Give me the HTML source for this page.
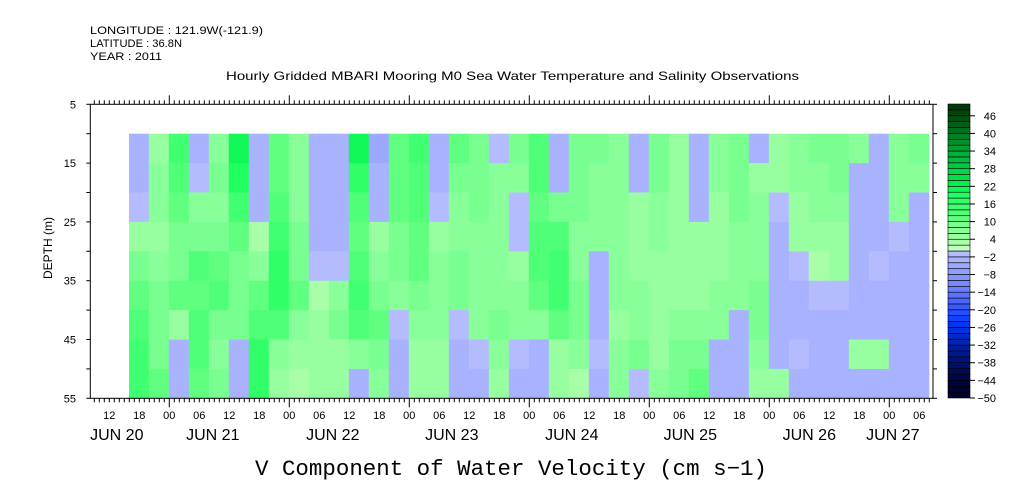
<!DOCTYPE html>
<html><head><meta charset="utf-8"><style>
html,body{margin:0;padding:0;background:#fff;}
svg{display:block;font-family:"Liberation Sans",sans-serif;}
</style></head><body>
<svg id="chart" width="1009" height="504" viewBox="0 0 1009 504" xmlns="http://www.w3.org/2000/svg">
<text x="90" y="34" font-size="11" textLength="173" lengthAdjust="spacingAndGlyphs">LONGITUDE : 121.9W(-121.9)</text>
<text x="90" y="47" font-size="11" textLength="92" lengthAdjust="spacingAndGlyphs">LATITUDE : 36.8N</text>
<text x="90" y="60" font-size="11" textLength="72" lengthAdjust="spacingAndGlyphs">YEAR : 2011</text>
<text x="226" y="80" font-size="12" textLength="573" lengthAdjust="spacingAndGlyphs">Hourly Gridded MBARI Mooring M0 Sea Water Temperature and Salinity Observations</text>
<g id="heat"></g>
<g id="axes"></g>
<g id="cbar"></g>
<text transform="translate(52,248) rotate(-90)" text-anchor="middle" font-size="12">DEPTH (m)</text>
<text x="255" y="475" font-family="Liberation Mono, monospace" font-size="22" textLength="512" lengthAdjust="spacingAndGlyphs">V Component of Water Velocity (cm s−1)</text>
</svg>
<script>
// time in hours relative to JUN 21 00:00; each column spans 4 hours
const colStartHours = [];
for (let i = 0; i < 40; i++) colStartHours.push(-8.1 + 4 * i);
const depthRows = [10,15,20,25,30,35,40,45,50];
const values = [
[-4,-4,-2,4,8,10,12,14,14],[4,6,6,4,6,8,8,8,10],[14,12,10,8,8,10,4,-4,-4],[-4,-2,6,8,12,10,12,12,10],
[6,8,6,8,10,12,8,6,8],[20,18,14,10,8,8,8,-4,-4],[-4,-4,-4,2,6,10,12,16,16],[10,10,12,14,16,16,12,6,4],
[6,6,6,8,8,10,6,4,2],[-4,-4,-4,-4,-2,2,4,4,4],[-4,-4,-4,-4,-2,6,8,4,4],[20,16,12,10,12,14,12,6,-4],
[-6,-4,-4,4,6,8,10,8,6],[10,10,10,8,8,6,-2,-4,-4],[14,12,12,10,10,8,6,4,4],[-4,-4,-2,4,6,6,6,4,4],
[10,8,6,6,8,8,-2,-4,-4],[8,8,8,6,6,6,6,-2,-4],[-2,6,6,6,6,6,8,6,4],[8,6,-2,-2,4,6,6,-2,-4],
[12,12,10,12,12,10,6,-4,-4],[-4,-4,8,12,14,14,10,4,4],[8,8,8,6,6,8,8,6,2],[8,6,6,6,-4,-4,-4,-2,-4],
[6,6,6,6,6,6,4,6,6],[-4,-4,4,4,4,6,6,8,-2],[8,8,6,6,4,4,4,4,6],[4,4,4,4,4,4,6,8,8],
[-4,-4,-4,4,4,4,6,8,10],[6,6,4,4,4,6,6,-4,-4],[8,8,8,6,6,6,-4,-4,-4],[-4,4,6,6,6,8,8,6,4],
[4,4,-2,-4,-4,-4,-4,-4,4],[6,6,4,4,-2,-4,-4,-2,-4],[8,6,6,4,2,-2,-4,-4,-4],[8,8,6,4,4,-2,-4,-4,-4],
[6,-4,-4,-4,-4,-4,-4,4,-4],[-4,-4,-4,-4,-2,-4,-4,4,-4],[6,6,6,-2,-4,-4,-4,-4,-4],[8,6,-4,-4,-4,-4,-4,-4,-4]
];
const cbarLabels = [46,40,34,28,22,16,10,4,-2,-8,-14,-20,-26,-32,-38,-44,-50];
const hourLabels = ["12","18","00","06","12","18","00","06","12","18","00","06","12","18","00","06","12","18","00","06","12","18","00","06","12","18","00","06"];
const dayLabels = ["JUN 20","JUN 21","JUN 22","JUN 23","JUN 24","JUN 25","JUN 26","JUN 27"];
const dayLabelHours = [-10.5,8.7,32.7,56.5,80.5,104.2,128,144.7];
const depthTicks = [5,15,25,35,45,55];

const NS='http://www.w3.org/2000/svg';
const X0=90.3, X1=933, Y0=104.3, Y1=398.3;
const xS = h => 169.3 + h*5;
const yS = d => Y0 + (d-5)*(Y1-Y0)/50;
function mk(tag, attrs, parent){const e=document.createElementNS(NS,tag);for(const k in attrs)e.setAttribute(k,attrs[k]);parent.appendChild(e);return e;}
const POS=['#c0ffc0','#a8ffa8','#98ffa0','#88ff98','#78ff90','#60ff80','#50ff78','#40ff70','#30ff68','#20ff60','#10f858','#00f050','#00e048','#00d844','#00c840','#00bc3c','#00b038','#00a030','#00902c','#008028','#007020','#006018','#005010','#00440c','#003808'];
const NEG=['#b4bcff','#a8b2ff','#9ca8ff','#909eff','#8494ff','#788aff','#6c80ff','#5a72ff','#4a66ff','#385aff','#244eff','#1042ff','#0038f0','#0030e0','#002acc','#0024b8','#001ea4','#001890','#00127c','#000e68','#000a58','#000648','#00043c','#000230','#000028'];
function color(v){
  return v>=0 ? POS[Math.min(Math.floor(v/2),24)] : NEG[Math.min(Math.floor((-v-0.001)/2),24)];
}
const heat=document.getElementById('heat');
for(let i=0;i<values.length;i++){
  const xa=Math.max(xS(colStartHours[i]),129), xb=Math.min(xS(colStartHours[i]+4),X1);
  for(let j=0;j<depthRows.length;j++){
    const r=mk('rect',{x:xa,y:yS(depthRows[j]),width:Math.max(0,Math.min(xb+0.5,X1)-xa),height:Math.min(yS(depthRows[j]+5)+0.5,Y1)-yS(depthRows[j]),fill:color(values[i][j])},heat);
    
    
  }
}
const ax=document.getElementById('axes');
mk('rect',{x:X0,y:Y0,width:X1-X0,height:Y1-Y0,fill:'none',stroke:'#000','stroke-width':1},ax);
const h0=Math.ceil((X0-169.3)/5);
for(let h=h0; xS(h)<=X1; h++){
  const x=xS(h), major=((h%24)+24)%24===0, len=major?9:4;
  mk('line',{x1:x,y1:Y1,x2:x,y2:Y1+len,stroke:'#000'},ax);
  mk('line',{x1:x,y1:Y0,x2:x,y2:Y0-len,stroke:'#000'},ax);
}
hourLabels.forEach((t,k)=>{
  const h=-12+6*k;
  const tx=mk('text',{x:xS(h),y:419,'text-anchor':'middle','font-size':11},ax);
  tx.textContent=t;
  
  
});
dayLabels.forEach((t,k)=>{
  const tx=mk('text',{x:xS(dayLabelHours[k]),y:440,'text-anchor':'middle','font-size':16},ax);
  tx.textContent=t;
  
  
});
for(let d=5; d<=55; d+=5){
  mk('line',{x1:X0-4,y1:yS(d),x2:X0,y2:yS(d),stroke:'#000'},ax);
  mk('line',{x1:X1,y1:yS(d),x2:X1+4,y2:yS(d),stroke:'#000'},ax);
}
depthTicks.forEach(d=>{
  const tx=mk('text',{x:76,y:yS(d)+4,'text-anchor':'end','font-size':11},ax);
  tx.textContent=d;
  
  
});
const cb=document.getElementById('cbar');
const cy = v => 104 + (50-v)*294/100;
for(let v=-50; v<50; v+=2){
  const r=mk('rect',{x:948,y:cy(v+2),width:22,height:cy(v)-cy(v+2),fill:color(v+1),stroke:'#000','stroke-width':0.6},cb);
  
  
}
cbarLabels.forEach(v=>{
  mk('line',{x1:970,y1:cy(v),x2:975,y2:cy(v),stroke:'#000'},cb);
  const tx=mk('text',{x:996,y:cy(v)+4,'text-anchor':'end','font-size':11},cb);
  tx.textContent=v<0?'−'+(-v):v;
  
  
});
</script>
</body></html>
